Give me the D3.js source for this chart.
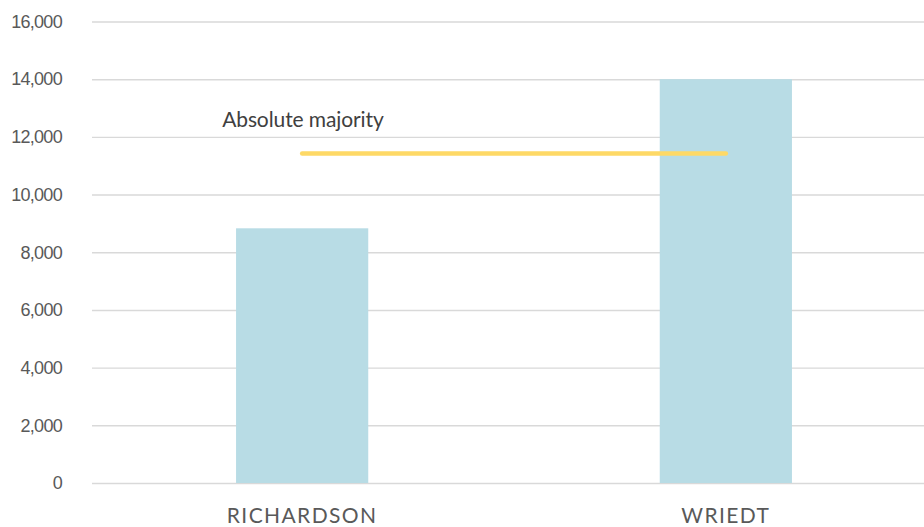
<!DOCTYPE html>
<html>
<head>
<meta charset="utf-8">
<script src="https://cdn.jsdelivr.net/npm/d3@7"></script>
<style>
  html, body { margin: 0; padding: 0; background: #fff; }
  svg { display: block; font-family: Lato, "Noto Sans", sans-serif; }
</style>
</head>
<body>
<div id="main"></div>
<script>
const candidates = ['RICHARDSON', 'WRIEDT']
const votes = [8830, 14000]
const majority = 11420
const yTicks = [0, 2000, 4000, 6000, 8000, 10000, 12000, 14000, 16000]

const width = 924
const height = 527
const margin = { top: 21.5, bottom: 44, left: 92, right: -12 }

const svg = d3.select('#main').append('svg')
  .attr('width', width)
  .attr('height', height)

const x = d3.scaleBand()
  .domain(candidates)
  .range([margin.left, width - margin.right])
  .paddingInner(0.688)
  .paddingOuter(0.34)

const y = d3.scaleLinear()
  .domain([0, 16000])
  .range([height - margin.bottom, margin.top])

// gridlines + tick labels
const yAxis = d3.axisLeft(y)
  .tickValues(yTicks)
  .tickSize(-(width - margin.left))
  .tickFormat(d3.format(','))
  .tickPadding(30)

svg.append('g')
  .attr('transform', `translate(${margin.left},0)`)
  .call(yAxis)
  .call(g => g.select('.domain').remove())
  .call(g => g.selectAll('.tick line').attr('stroke', '#d9d9d9').attr('stroke-width', 1.4))
  .call(g => g.selectAll('.tick text')
    .attr('fill', '#595959')
    .attr('font-size', 18)
    .attr('letter-spacing', -0.7))

// bars
svg.append('g')
  .selectAll('rect')
  .data(candidates)
  .enter()
  .append('rect')
  .attr('x', d => x(d))
  .attr('width', x.bandwidth())
  .attr('y', (d, i) => y(votes[i]))
  .attr('height', (d, i) => y(0) - y(votes[i]))
  .attr('fill', '#b8dce5')

// category labels
svg.append('g')
  .selectAll('text')
  .data(candidates)
  .enter()
  .append('text')
  .attr('x', d => x(d) + x.bandwidth() / 2)
  .attr('y', height - 4)
  .attr('text-anchor', 'middle')
  .attr('fill', '#595959')
  .attr('font-size', 21)
  .attr('letter-spacing', 1.4)
  .text(d => d)

// absolute majority line
const cx = d => x(d) + x.bandwidth() / 2
svg.append('line')
  .attr('x1', cx(candidates[0]))
  .attr('x2', cx(candidates[1]))
  .attr('y1', y(majority))
  .attr('y2', y(majority))
  .attr('stroke', '#fed966')
  .attr('stroke-width', 4.5)
  .attr('stroke-linecap', 'round')

svg.append('text')
  .attr('x', cx(candidates[0]) - 80)
  .attr('y', y(majority) - 27)
  .attr('fill', '#404040')
  .attr('font-size', 21)
  .attr('letter-spacing', -0.1)
  .text('Absolute majority')
</script>
</body>
</html>
